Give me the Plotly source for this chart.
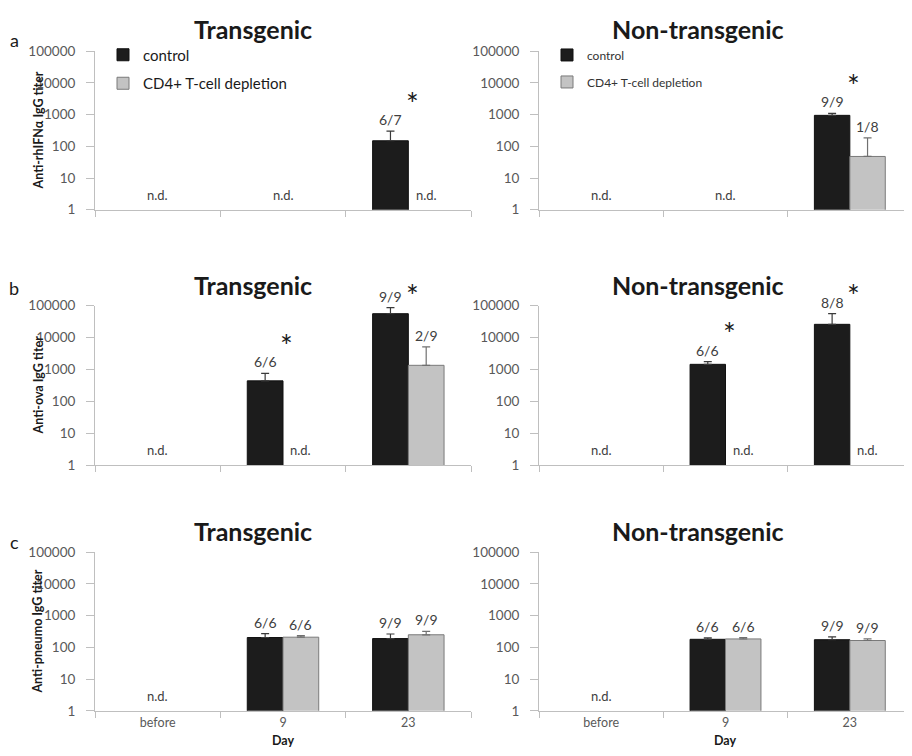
import plotly.graph_objects as go
import math

categories = ["before", "9", "23"]
series_names = ["control", "CD4+ T-cell depletion"]

# panel values (None = not detected); *_err = upper error bar length
a_tg_ctrl = [None, None, 150]
a_tg_ctrl_err = [None, None, 150]
a_tg_dep = [None, None, None]
a_tg_dep_err = [None, None, None]
a_tg_ctrl_lab = [None, None, "6/7"]
a_tg_dep_lab = [None, None, None]
a_tg_star = [False, False, True]

a_ntg_ctrl = [None, None, 950]
a_ntg_ctrl_err = [None, None, 150]
a_ntg_dep = [None, None, 48]
a_ntg_dep_err = [None, None, 137]
a_ntg_ctrl_lab = [None, None, "9/9"]
a_ntg_dep_lab = [None, None, "1/8"]
a_ntg_star = [False, False, True]

b_tg_ctrl = [None, 440, 56000]
b_tg_ctrl_err = [None, 320, 31000]
b_tg_dep = [None, None, 1350]
b_tg_dep_err = [None, None, 3750]
b_tg_ctrl_lab = [None, "6/6", "9/9"]
b_tg_dep_lab = [None, None, "2/9"]
b_tg_star = [False, True, True]

b_ntg_ctrl = [None, 1450, 26000]
b_ntg_ctrl_err = [None, 320, 30000]
b_ntg_dep = [None, None, None]
b_ntg_dep_err = [None, None, None]
b_ntg_ctrl_lab = [None, "6/6", "8/8"]
b_ntg_dep_lab = [None, None, None]
b_ntg_star = [False, True, True]

c_tg_ctrl = [None, 205, 190]
c_tg_ctrl_err = [None, 65, 75]
c_tg_dep = [None, 210, 250]
c_tg_dep_err = [None, 25, 70]
c_tg_ctrl_lab = [None, "6/6", "9/9"]
c_tg_dep_lab = [None, "6/6", "9/9"]
c_tg_star = [False, False, False]

c_ntg_ctrl = [None, 180, 175]
c_ntg_ctrl_err = [None, 20, 40]
c_ntg_dep = [None, 185, 165]
c_ntg_dep_err = [None, 20, 20]
c_ntg_ctrl_lab = [None, "6/6", "9/9"]
c_ntg_dep_lab = [None, "6/6", "9/9"]
c_ntg_star = [False, False, False]

row_titles = ["Transgenic", "Non-transgenic"]
panel_letters = ["a", "b", "c"]
y_titles = ["Anti-rhIFNα IgG titer", "Anti-ova IgG titer", "Anti-pneumo IgG titer"]
y_tickvals = [1, 10, 100, 1000, 10000, 100000]
y_ticktext = ["1", "10", "100", "1000", "10000", "100000"]
x_title = "Day"

panels = [
    [(a_tg_ctrl, a_tg_ctrl_err, a_tg_dep, a_tg_dep_err, a_tg_ctrl_lab, a_tg_dep_lab, a_tg_star),
     (a_ntg_ctrl, a_ntg_ctrl_err, a_ntg_dep, a_ntg_dep_err, a_ntg_ctrl_lab, a_ntg_dep_lab, a_ntg_star)],
    [(b_tg_ctrl, b_tg_ctrl_err, b_tg_dep, b_tg_dep_err, b_tg_ctrl_lab, b_tg_dep_lab, b_tg_star),
     (b_ntg_ctrl, b_ntg_ctrl_err, b_ntg_dep, b_ntg_dep_err, b_ntg_ctrl_lab, b_ntg_dep_lab, b_ntg_star)],
    [(c_tg_ctrl, c_tg_ctrl_err, c_tg_dep, c_tg_dep_err, c_tg_ctrl_lab, c_tg_dep_lab, c_tg_star),
     (c_ntg_ctrl, c_ntg_ctrl_err, c_ntg_dep, c_ntg_dep_err, c_ntg_ctrl_lab, c_ntg_dep_lab, c_ntg_star)],
]

# page body has an 8px margin: figure is drawn 8px in from the window's corner
OFF = 8
W, H = 912 - OFF, 756 - OFF


def px(xs):
    return (xs - OFF) / W


def py(ys):
    return 1 - (ys - OFF) / H


FONT = "Lato"
TXT = "#404040"
AXC = "#bfbfbf"
CTRL_C = "#1c1c1c"
DEP_C = "#c3c3c3"

x_domains = [[px(95), px(471)], [px(539), 1.0]]
y_domains = [[py(206), py(44)], [py(467), py(304)], [py(718), py(556)]]
title_y = [21, 283, 534]
title_x = [253, 698]
letter_y = [33, 286, 545]

fig = go.Figure()
annotations = []
BAR_OFF = 0.143  # half of a bar in category units (bargap 0.43, two bars)

for r in range(3):
    for c in range(2):
        idx = r * 2 + c + 1
        xa = "x" if idx == 1 else f"x{idx}"
        ya = "y" if idx == 1 else f"y{idx}"
        ctrl, ctrl_err, dep, dep_err, ctrl_lab, dep_lab, star = panels[r][c]
        leg = "legend" if c == 0 else "legend2"
        show = (r == 0)
        for name, vals, errs, col, line_col, err_col, grp in [
            (series_names[0], ctrl, ctrl_err, CTRL_C, "#111111", "#3a3a3a", "g1"),
            (series_names[1], dep, dep_err, DEP_C, "#7a7a7a", "#707070", "g2"),
        ]:
            fig.add_trace(go.Bar(
                x=categories, y=vals, name=name, xaxis=xa, yaxis=ya,
                marker=dict(color=col, line=dict(color=line_col, width=1)),
                error_y=dict(type="data", symmetric=False,
                             array=[e if e is not None else 0 for e in errs],
                             arrayminus=[0, 0, 0], color=err_col, thickness=1.2, width=4),
                showlegend=show, legend=leg, legendgroup=grp + leg,
            ))
        nd_font = dict(family=FONT, size=13, color=TXT)
        for i in range(3):
            if ctrl[i] is None and dep[i] is None:
                annotations.append(dict(x=i, y=0, xref=xa, yref=ya, text="n.d.", showarrow=False,
                                        yanchor="bottom", yshift=5, font=nd_font))
                continue
            for vals, errs, labs, off in [(ctrl, ctrl_err, ctrl_lab, -BAR_OFF), (dep, dep_err, dep_lab, BAR_OFF)]:
                if vals[i] is None:
                    annotations.append(dict(x=i + off, y=0, xref=xa, yref=ya, text="n.d.", showarrow=False,
                                            yanchor="bottom", yshift=5, font=nd_font))
                elif labs[i]:
                    top = vals[i] + (errs[i] or 0)
                    annotations.append(dict(x=i + off, y=math.log10(top), xref=xa, yref=ya, text=labs[i],
                                            showarrow=False, yanchor="bottom", yshift=1,
                                            font=dict(family=FONT, size=14, color=TXT)))
            if star[i]:
                top = ctrl[i] + (ctrl_err[i] or 0)
                sy = min(math.log10(top) + 0.95, 5.4)
                annotations.append(dict(x=i + 0.03, y=sy / 5, xref=xa, yref=f"{ya} domain", text="*",
                                        showarrow=False, yanchor="middle", yshift=-2,
                                        font=dict(family=FONT, size=30, color="#1a1a1a")))
        annotations.append(dict(x=px(title_x[c]), y=py(title_y[r]), xref="paper", yref="paper",
                                text=f"<b>{row_titles[c]}</b>", showarrow=False,
                                font=dict(family=FONT, size=25, color="#1a1a1a"),
                                xanchor="center", yanchor="middle"))
        axis_common = dict(showgrid=False, zeroline=False, showline=True, linecolor=AXC, linewidth=1)
        fig.update_layout(**{
            ("xaxis" if idx == 1 else f"xaxis{idx}"): dict(
                domain=x_domains[c], anchor=ya, type="category", categoryorder="array",
                categoryarray=categories, range=[-0.5, 2.5], tickson="boundaries",
                ticks="outside", ticklen=6, tickcolor=AXC, showticklabels=(r == 2),
                tickfont=dict(family=FONT, size=12.5, color="#595959"), **axis_common),
            ("yaxis" if idx == 1 else f"yaxis{idx}"): dict(
                domain=y_domains[r], anchor=xa, type="log", range=[0, 5],
                tickvals=y_tickvals, ticktext=y_ticktext, ticks="outside", ticklen=8,
                ticklabelstandoff=8,
                tickcolor=AXC, tickfont=dict(family=FONT, size=13.5, color="#595959"), **axis_common),
        })
    annotations.append(dict(x=px(14), y=py(letter_y[r]), xref="paper", yref="paper",
                            text=panel_letters[r], showarrow=False, xanchor="center", yanchor="middle",
                            font=dict(family=FONT, size=18, color="#1a1a1a")))
    annotations.append(dict(x=px(38), y=sum(y_domains[r]) / 2, xref="paper", yref="paper",
                            text=f"<b>{y_titles[r]}</b>", showarrow=False, textangle=-90,
                            xanchor="center", yanchor="middle",
                            font=dict(family=FONT, size=12.5, color="#1a1a1a")))

for xa in ["x5", "x6"]:
    annotations.append(dict(x=0.5, y=py(748), xref=f"{xa} domain", yref="paper",
                            text=f"<b>{x_title}</b>", showarrow=False, yanchor="middle",
                            font=dict(family=FONT, size=12.5, color="#1a1a1a")))

fig.update_layout(
    width=W, height=H, margin=dict(l=0, r=0, t=0, b=0),
    paper_bgcolor="white", plot_bgcolor="white",
    barmode="group", bargap=0.43, bargroupgap=0,
    annotations=annotations,
    legend=dict(x=px(103), y=py(31), xanchor="left", yanchor="top", bgcolor="rgba(0,0,0,0)",
                font=dict(family=FONT, size=15, color="#1a1a1a"), traceorder="grouped",
                tracegroupgap=6),
    legend2=dict(x=px(547), y=py(33), xanchor="left", yanchor="top", bgcolor="rgba(0,0,0,0)",
                 font=dict(family=FONT, size=12, color="#333333"), traceorder="grouped",
                 tracegroupgap=8),
    font=dict(family=FONT),
)

fig.write_html("out.html")
